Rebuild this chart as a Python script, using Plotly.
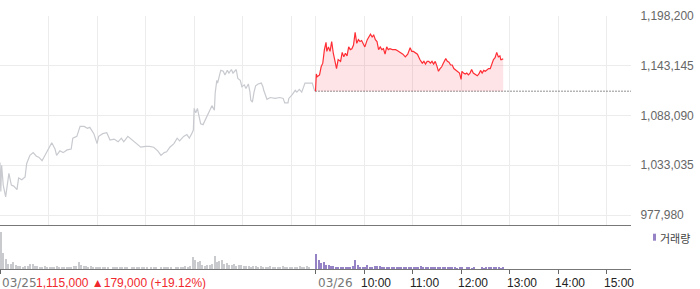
import plotly.graph_objects as go

# ---- data ----
# minutes since 09:00 on 03/25 (day 1: 0-390, day 2: 390-780)
day1_min = [0,1,2,4,7,11,14,17,21,23,27,31,33,37,41,45,48,52,58,62,64,68,70,74,78,83,88,90,95,99,
            104,108,111,116,120,122,127,132,136,141,146,150,153,158,163,168,174,180,185,190,195,199,
            203,206,210,215,219,222,227,231,234,237,239,240,242,244,246,248,251,255,258,262,265,266,
            268,269,272,273,276,278,281,283,286,288,292,294,297,299,302,304,307,309,310,312,314,316,
            319,323,325,326,330,334,340,346,350,352,356,357,361,365,367,370,373,377,386,389]
day1_price = [1036000,1004000,1033000,1011000,998000,1024000,1011000,1010000,1006000,1019000,1017000,
              1020000,1035000,1044000,1047000,1043000,1042000,1038000,1048000,1054000,1058000,1051000,
              1044000,1049000,1047000,1050000,1051000,1063000,1065000,1076000,1076000,1074000,1075000,
              1068000,1057000,1065000,1068000,1069000,1061000,1062000,1059000,1063000,1059000,1065000,
              1061000,1057000,1053000,1054000,1054000,1053000,1049000,1044000,1047000,1048000,1053000,
              1057000,1063000,1060000,1065000,1067000,1063000,1068000,1072000,1096000,1091000,1096000,
              1089000,1079000,1078000,1085000,1091000,1099000,1094000,1113000,1127000,1124000,1135000,
              1138000,1137000,1133000,1138000,1135000,1139000,1135000,1139000,1129000,1127000,1120000,
              1122000,1118000,1123000,1114000,1105000,1103000,1114000,1121000,1123000,1124000,1120000,
              1116000,1106000,1108000,1107000,1108000,1107000,1102000,1102000,1107000,1111000,1116000,
              1114000,1117000,1114000,1124000,1124000,1115000]

day2_min = [390,391,392,395,397,399,401,403,404,406,408,410,412,414,416,418,421,423,425,427,429,431,
            433,435,437,439,441,443,445,447,449,451,454,456,458,460,462,464,466,468,470,472,474,476,
            478,480,482,485,489,491,495,498,501,504,507,509,511,514,516,519,522,524,526,528,530,532,
            534,536,538,540,542,544,546,548,551,553,555,557,559,561,564,566,568,570,571,573,575,577,
            579,581,583,585,587,590,592,594,596,598,600,602,604,606,608,610,612,614,616,618,619,620,622]
day2_price = [1115000,1134000,1131000,1133000,1142000,1146000,1161000,1169000,1159000,1164000,1159000,
              1170000,1157000,1146000,1140000,1150000,1148000,1158000,1153000,1157000,1154000,1164000,
              1161000,1162000,1166000,1180000,1168000,1172000,1170000,1171000,1168000,1164000,1172000,
              1175000,1178000,1175000,1177000,1172000,1170000,1161000,1164000,1161000,1162000,1156000,
              1164000,1161000,1162000,1161000,1161000,1160000,1158000,1156000,1153000,1156000,1163000,
              1159000,1159000,1157000,1156000,1150000,1146000,1148000,1145000,1148000,1148000,1146000,
              1148000,1145000,1148000,1143000,1137000,1140000,1142000,1146000,1151000,1148000,1147000,
              1144000,1144000,1140000,1138000,1137000,1135000,1128000,1137000,1135000,1134000,1135000,
              1133000,1135000,1139000,1135000,1134000,1132000,1134000,1138000,1135000,1138000,1137000,
              1139000,1140000,1140000,1146000,1150000,1152000,1158000,1153000,1154000,1150000,1150000,
              1151000]

prev_close = 1115000

# volume in 3-minute bins
vol_bin = 3
day1_vol = [3670,1600,1000,500,450,700,350,300,250,200,
            250,300,450,500,300,250,200,200,250,200,
            150,200,200,250,200,200,150,200,150,200,
            250,300,730,350,300,250,200,250,200,150,
            200,150,100,200,150,0,200,150,100,150,
            200,100,150,0,150,200,100,150,100,200,
            150,0,100,150,100,0,150,100,150,200,
            100,0,150,100,200,150,300,200,300,1170,
            900,670,830,400,300,350,400,500,1330,670,
            830,900,500,600,400,350,500,300,350,400,
            300,250,300,200,250,300,200,250,200,150,
            200,250,150,200,150,200,250,150,200,150,
            200,150,200,250,150,200,330,150,0,0]
day2_vol = [1470,930,600,670,400,350,330,300,200,220,
            200,180,200,170,200,250,870,430,170,150,
            170,370,180,200,270,250,270,150,120,150,
            120,100,150,100,120,100,100,120,100,120,
            100,150,120,270,150,180,120,100,150,200,
            100,120,100,150,100,100,120,100,80,100,
            100,0,120,100,80,100,0,0,100,80,
            100,120,150,100,120,100,80,100]

y_ticks = [977980, 1033035, 1088090, 1143145, 1198200]
grid_minutes = [0, 60, 120, 180, 240, 300, 360, 390, 450, 510, 570, 630, 690, 750]
axis_tick_minutes = [0, 390, 450, 510, 570, 630, 690, 750]
date_labels = [(0, "03/25"), (390, "03/26")]
time_labels = [(450, "10:00"), (510, "11:00"), (570, "12:00"), (630, "13:00"), (690, "14:00"), (750, "15:00")]
close_price = 1115000
change = 179000
change_pct = 19.12
vol_name = "거래량"

# ---- figure ----
fig = go.Figure()

fig.add_trace(go.Scatter(x=day1_min, y=day1_price, mode="lines",
                         line=dict(color="#c8cacf", width=1.2), hoverinfo="skip",
                         xaxis="x", yaxis="y"))
fig.add_trace(go.Scatter(x=[390, 780], y=[prev_close, prev_close], mode="lines",
                         line=dict(color="#222222", width=1, dash="1px,2px"), hoverinfo="skip",
                         xaxis="x", yaxis="y"))
fig.add_trace(go.Scatter(x=[day2_min[0], day2_min[-1]], y=[prev_close, prev_close], mode="lines",
                         line=dict(width=0, color="rgba(0,0,0,0)"), hoverinfo="skip",
                         xaxis="x", yaxis="y"))
fig.add_trace(go.Scatter(x=day2_min, y=day2_price, mode="lines", fill="tonexty",
                         fillcolor="rgba(245,50,70,0.13)",
                         line=dict(color="#ff2e35", width=1.2), hoverinfo="skip",
                         xaxis="x", yaxis="y"))

d1x = [i * vol_bin + vol_bin / 2 for i in range(len(day1_vol))]
d2x = [390 + i * vol_bin + vol_bin / 2 for i in range(len(day2_vol))]
fig.add_trace(go.Bar(x=d1x, y=day1_vol, width=1.8, marker=dict(color="#c8cacd", line=dict(width=0)),
                     xaxis="x2", yaxis="y2", hoverinfo="skip"))
fig.add_trace(go.Bar(x=d2x, y=day2_vol, width=1.8, marker=dict(color="#9683c6", line=dict(width=0)),
                     xaxis="x2", yaxis="y2", hoverinfo="skip"))

W, H = 700, 289
ml, mr, mt, mb = 0, 69, 16, 20
ph = H - mt - mb
pw = W - ml - mr


def py(pix):
    return (H - mb - pix) / ph


def px(pix):
    return (pix - ml) / pw


fig.update_layout(
    width=W, height=H, margin=dict(l=ml, r=mr, t=mt, b=mb),
    paper_bgcolor="white", plot_bgcolor="white", showlegend=False,
    bargap=0,
    xaxis=dict(domain=[0, 1], range=[0, 780], anchor="y", tickvals=grid_minutes,
               showticklabels=False, ticks="", showgrid=True, gridcolor="#ececec", gridwidth=1,
               zeroline=False, showline=True, linecolor="#777777", linewidth=1),
    yaxis=dict(domain=[py(225), 1], range=[977980 - 10 * 1106.6, 1198200], side="right",
               tickvals=y_ticks, ticktext=[f"{v:,}" for v in y_ticks],
               tickfont=dict(family="Liberation Sans", size=12, color="#666666"),
               ticks="outside", ticklen=6, tickcolor="rgba(0,0,0,0)",
               showgrid=True, gridcolor="#ececec", zeroline=False, showline=False),
    xaxis2=dict(domain=[0, 1], range=[0, 780], anchor="y2", tickvals=axis_tick_minutes,
                showticklabels=False, ticks="outside", ticklen=4, tickcolor="#666666",
                showgrid=False, zeroline=False, showline=True, linecolor="#777777", linewidth=1),
    yaxis2=dict(domain=[0, py(226)], range=[0, 4270], showticklabels=False, showgrid=False,
                zeroline=False, showline=False),
)

annotations = []
label_y = py(282.5)
for m, t in date_labels:
    annotations.append(dict(x=m, xref="x2", y=label_y, yref="paper", text=t, showarrow=False,
                            xanchor="left", yanchor="middle",
                            font=dict(family="DejaVu Sans", size=12, color="#777777")))
for m, t in time_labels:
    annotations.append(dict(x=m, xref="x2", y=label_y, yref="paper", text=t, showarrow=False,
                            xanchor="left", yanchor="middle", xshift=-5,
                            font=dict(family="Liberation Sans", size=12, color="#222222")))
annotations.append(dict(x=px(34.3), xref="paper", y=label_y, yref="paper",
                        text=f"{close_price:,} ▲{change:,} (+{change_pct:.2f}%)", showarrow=False,
                        xanchor="left", yanchor="middle",
                        font=dict(family="Liberation Sans", size=12, color="#f0282d")))
annotations.append(dict(x=px(657.5), xref="paper", y=py(237.5), yref="paper", text=vol_name,
                        showarrow=False, xanchor="left", yanchor="middle",
                        font=dict(family="Noto Sans CJK KR", size=11, color="#444444")))
fig.update_layout(annotations=annotations)

fig.add_shape(type="rect", xref="paper", yref="paper", x0=px(653), x1=px(656),
              y0=py(240.7), y1=py(233.7), fillcolor="#9683c6", line=dict(width=0))

fig.write_html("out.html")
